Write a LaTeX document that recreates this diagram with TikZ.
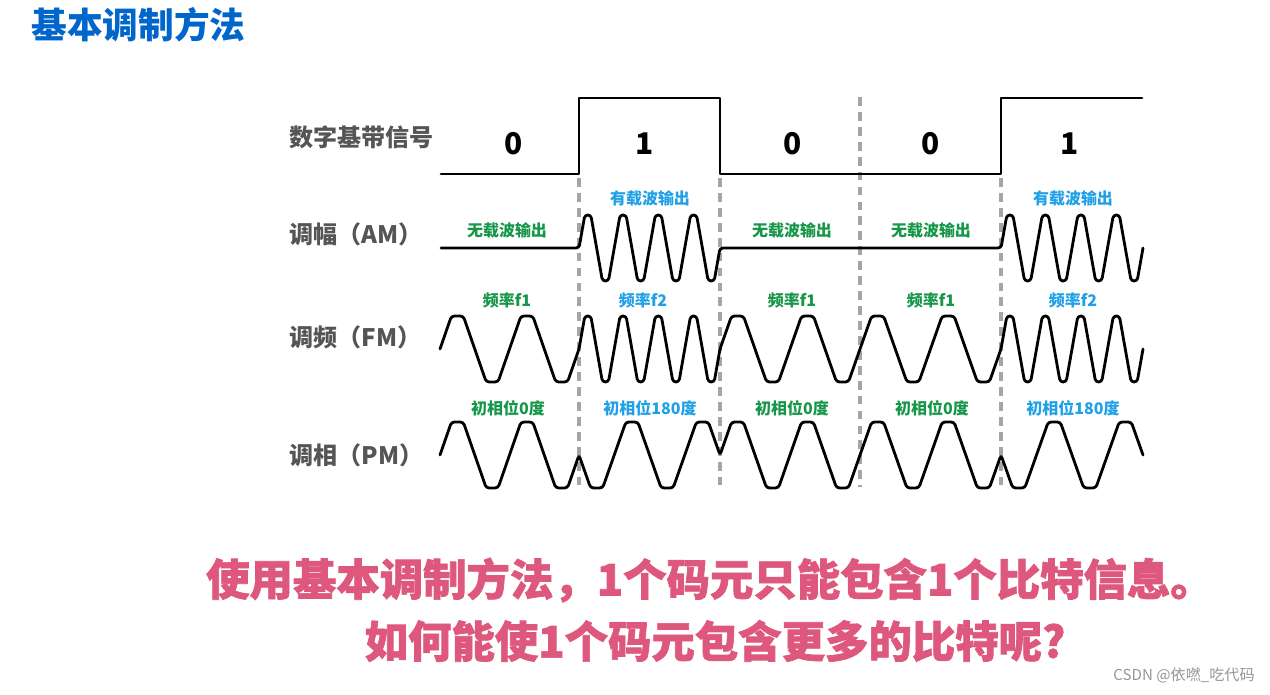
\documentclass[tikz,border=0pt]{standalone}
\usepackage{fontspec}
\setmainfont{Noto Sans CJK SC}
\newfontfamily\notefont{Noto Sans CJK SC}[BoldFeatures={FakeBold=1.6}]
\usepackage{tikz}
\definecolor{titleblue}{RGB}{0,102,204}
\definecolor{labelgrey}{RGB}{85,85,85}
\definecolor{offgreen}{RGB}{22,150,72}
\definecolor{onblue}{RGB}{32,160,230}
\definecolor{dashgrey}{RGB}{165,165,165}
\definecolor{notepink}{RGB}{222,88,125}
\definecolor{markgrey}{RGB}{150,150,150}
\tikzset{
  base/.style={inner sep=0pt, align=center},
  titletxt/.style={base, font=\fontsize{20.3}{24}\selectfont\bfseries, text=titleblue},
  rowlbl/.style={base, anchor=west, font=\fontsize{13.7}{16}\selectfont\bfseries, text=labelgrey},
  bitlbl/.style={base, font=\fontsize{17}{20}\selectfont\bfseries, text=black},
  offlbl/.style={base, font=\fontsize{9.1}{11}\selectfont\bfseries, text=offgreen},
  onlbl/.style={base, font=\fontsize{9.1}{11}\selectfont\bfseries, text=onblue},
  note/.style={base, font=\notefont\fontsize{24.7}{28}\selectfont\bfseries, text=notepink},
  wmark/.style={base, font=\fontsize{8.6}{10}\selectfont, text=markgrey},
  sig/.style={draw=black, line width=1.6pt, line join=round, line cap=round},
  wave/.style={sig, rounded corners=1.7pt},
  sep/.style={draw=dashgrey, line width=2pt, dash pattern=on 5pt off 3.5pt},
}
\def\amp{33}
% one bit of carrier: start x, end x, cycles, sign (1 or -1), centre y
\newcommand{\carrier}[5]{%
  \foreach \k in {1,...,#3}{
    -- ({#1+(\k-1+0.165)*(#2-#1)/#3},{#5-(#4)*\amp})
    -- ({#1+(\k-1+0.335)*(#2-#1)/#3},{#5-(#4)*\amp})
    -- ({#1+(\k-1+0.665)*(#2-#1)/#3},{#5+(#4)*\amp})
    -- ({#1+(\k-1+0.835)*(#2-#1)/#3},{#5+(#4)*\amp})
    -- ({#1+\k*(#2-#1)/#3},{#5})
  }}

\begin{document}
\begin{tikzpicture}[x=0.02cm, y=-0.02cm]
  \fill[white] (0,0) rectangle (1270,695);
  \useasboundingbox (0,0) rectangle (1270,695);
  \node[titletxt, anchor=west] (title) at (31,25) {基本调制方法};
  % row labels
  \node[rowlbl] (lbl-dig) at (289,137) {数字基带信号};
  \node[rowlbl] (lbl-am) at (289,234) {调幅（AM）};
  \node[rowlbl] (lbl-fm) at (289,337) {调频（FM）};
  \node[rowlbl] (lbl-pm) at (289,455) {调相（PM）};
  % bit boundaries
  \foreach \x/\top in {579/178,720/178,860/97,1001/178}{
    \draw[sep] (\x,\top) -- (\x,487);
  }
  % digital baseband signal
  \draw[sig] (441,174) -- (579,174) -- (579,98) -- (720,98) -- (720,174)
    -- (1001,174) -- (1001,98) -- (1142,98);
  \foreach \x/\b [count=\i] in {514/0,645/1,793/0,931/0,1070/1}{
    \node[bitlbl] (bit\i) at (\x,144) {\b};
  }
  % AM
  \draw[wave] (441,248) -- (579,248) \carrier{579}{720}{4}{1}{248}
    -- (1001,248) \carrier{1001}{1143}{4}{1}{248};
  \foreach \x [count=\i] in {507,792,931}{
    \node[offlbl] (am-off\i) at (\x,230) {无载波输出};
  }
  \foreach \x [count=\i] in {650,1073}{
    \node[onlbl] (am-on\i) at (\x,198) {有载波输出};
  }
  % FM
  \draw[wave] (440,349) \carrier{440}{579}{2}{1}{349} \carrier{579}{720}{4}{1}{349}
    \carrier{720}{860}{2}{1}{349} \carrier{860}{1001}{2}{1}{349} \carrier{1001}{1143}{4}{1}{349};
  \foreach \x [count=\i] in {507,792,931}{
    \node[offlbl] (fm-f1\i) at (\x,300) {频率f1};
  }
  \foreach \x [count=\i] in {643,1073}{
    \node[onlbl] (fm-f2\i) at (\x,300) {频率f2};
  }
  % PM
  \draw[wave] (440,455) \carrier{440}{579}{2}{1}{455} \carrier{579}{720}{2}{-1}{455}
    \carrier{720}{860}{2}{1}{455} \carrier{860}{1001}{2}{1}{455} \carrier{1001}{1143}{2}{-1}{455};
  \foreach \x [count=\i] in {508,792,932}{
    \node[offlbl] (pm-0\i) at (\x,408) {初相位0度};
  }
  \foreach \x [count=\i] in {650,1073}{
    \node[onlbl] (pm-180\i) at (\x,408) {初相位180度};
  }
  % question
  \node[note] (note1) at (710,580) {使用基本调制方法，1个码元只能包含1个比特信息。};
  \node[note] (note2) at (715,641) {如何能使1个码元包含更多的比特呢?};
  \node[wmark, anchor=east] (mark) at (1255,675) {CSDN @依嘫\_吃代码};
\end{tikzpicture}
\end{document}
